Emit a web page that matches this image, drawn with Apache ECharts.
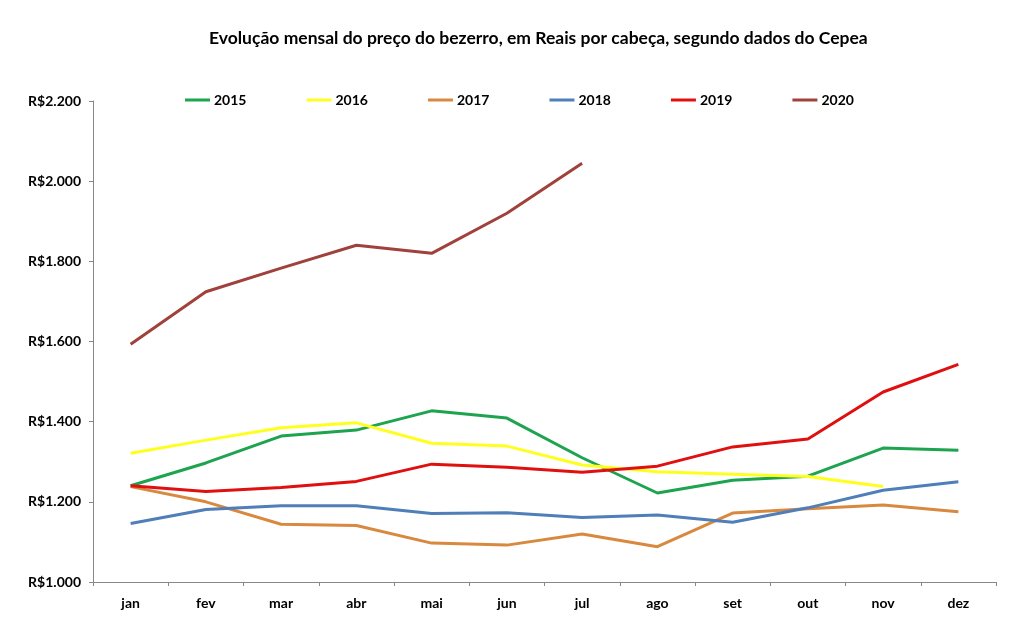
<!DOCTYPE html>
<html>
<head>
<meta charset="utf-8">
<script src="https://cdn.jsdelivr.net/npm/echarts@6/dist/echarts.min.js"></script>
<style>
  html, body { margin: 0; padding: 0; background: #fff; }
  #chart { width: 1013px; height: 631px; }
</style>
</head>
<body>
<div id="chart"></div>
<script>
// months and yearly series (R$ per head)
const months = ['jan', 'fev', 'mar', 'abr', 'mai', 'jun', 'jul', 'ago', 'set', 'out', 'nov', 'dez'];
const years = ['2015', '2016', '2017', '2018', '2019', '2020'];
const colors = ['#1ea34f', '#ffff1f', '#d8893f', '#4f7eb8', '#e01010', '#a0413c'];

const v2015 = [1240, 1297, 1364, 1379, 1427, 1409, 1310, 1222, 1254, 1264, 1334, 1329];
const v2016 = [1321, 1354, 1385, 1397, 1346, 1339, 1292, 1275, 1269, 1263, 1238, null];
const v2017 = [1238, 1200, 1144, 1141, 1097, 1092, 1120, 1088, 1172, 1183, 1192, 1175];
const v2018 = [1146, 1181, 1190, 1190, 1171, 1173, 1161, 1167, 1149, 1185, 1229, 1250];
const v2019 = [1240, 1226, 1236, 1251, 1294, 1286, 1274, 1289, 1337, 1357, 1474, 1543];
const v2020 = [1593, 1724, 1783, 1840, 1820, 1920, 2045];

const yTicks = { min: 1000, max: 2200, interval: 200 };

const allValues = [v2015, v2016, v2017, v2018, v2019, v2020];
const font = 'Lato, "Open Sans", sans-serif';

const chart = echarts.init(document.getElementById('chart'));

const series = years.map((name, i) => ({
  name: name,
  type: 'line',
  data: allValues[i],
  symbol: 'none',
  color: colors[i],
  lineStyle: { width: 3, color: colors[i] },
  connectNulls: false
}));

chart.setOption({
  backgroundColor: '#fff',
  animation: false,
  title: {
    text: 'Evolução mensal do preço do bezerro, em Reais por cabeça, segundo dados do Cepea',
    left: 204,
    top: 24,
    textStyle: { fontFamily: font, fontSize: 17.5, fontWeight: 'bold', color: '#000' }
  },
  legend: {
    data: years,
    left: 185,
    top: 93,
    padding: 0,
    icon: 'rect',
    itemWidth: 25,
    itemHeight: 3,
    itemGap: 60,
    textStyle: { fontFamily: font, fontSize: 14, fontWeight: 'bold', color: '#000', padding: [0, 0, 0, -1] }
  },
  grid: { left: 93, right: 17, top: 101, bottom: 49 },
  xAxis: {
    type: 'category',
    data: months,
    boundaryGap: true,
    axisLine: { lineStyle: { color: '#888', width: 1 } },
    axisTick: { show: true, length: 4, lineStyle: { color: '#888' } },
    axisLabel: { fontFamily: font, fontSize: 14, fontWeight: 'bold', color: '#000', margin: 14 }
  },
  yAxis: {
    type: 'value',
    min: yTicks.min,
    max: yTicks.max,
    interval: yTicks.interval,
    splitLine: { show: false },
    axisLine: { show: true, lineStyle: { color: '#888', width: 1 } },
    axisTick: { show: true, length: 4, lineStyle: { color: '#888' } },
    axisLabel: {
      fontFamily: font, fontSize: 14, fontWeight: 'bold', color: '#000', margin: 12,
      formatter: v => 'R$' + v.toLocaleString('de-DE')
    }
  },
  series: series
});
</script>
</body>
</html>
